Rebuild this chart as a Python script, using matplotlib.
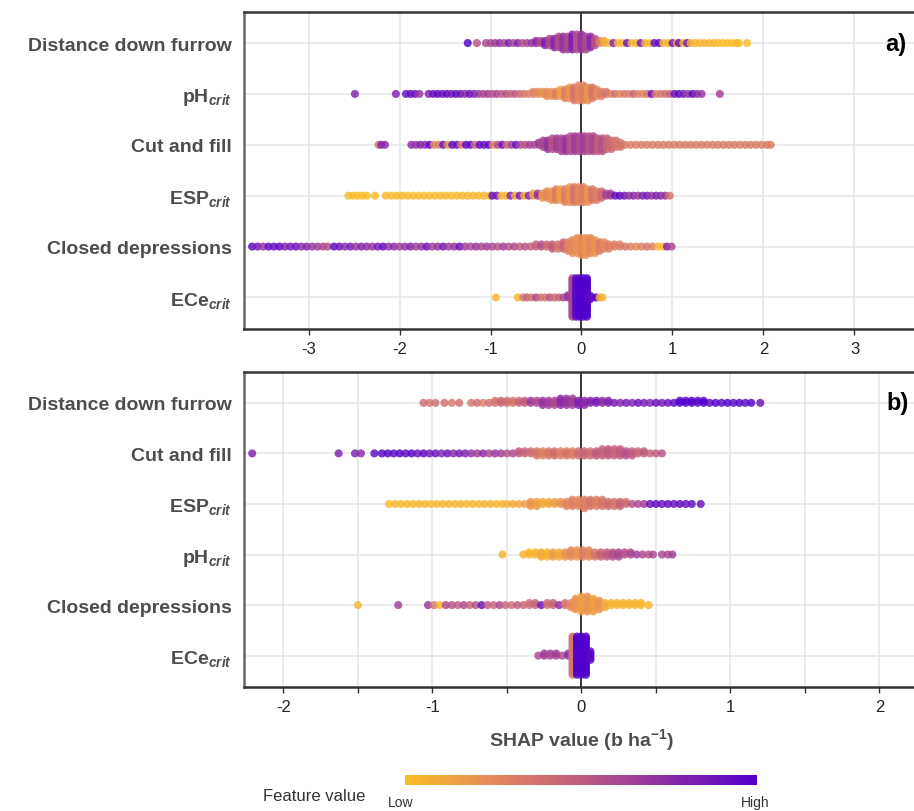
import numpy as np
import matplotlib
matplotlib.use('Agg')
import matplotlib.pyplot as plt
from matplotlib.colors import LinearSegmentedColormap

plt.rcParams['font.family'] = ['Liberation Sans', 'DejaVu Sans']
plt.rcParams['mathtext.fontset'] = 'custom'
plt.rcParams['mathtext.rm'] = 'Liberation Sans:bold'
plt.rcParams['mathtext.it'] = 'Liberation Sans:italic:bold'
plt.rcParams['mathtext.bf'] = 'Liberation Sans:bold'

# feature names, top to bottom
labels_a = ['Distance down furrow', r'pH$_{\mathit{crit}}$', 'Cut and fill',
            r'ESP$_{\mathit{crit}}$', 'Closed depressions', r'ECe$_{\mathit{crit}}$']
labels_b = ['Distance down furrow', 'Cut and fill', r'ESP$_{\mathit{crit}}$',
            r'pH$_{\mathit{crit}}$', 'Closed depressions', r'ECe$_{\mathit{crit}}$']

# each point: (SHAP value, feature value 0=low..1=high, dots stacked at that value)
a_distance = [(-1.25, 1.0, 1), (-1.15, 0.55, 1), (-1.05, 0.6, 1), (-1.0, 0.6, 1), (-0.95, 0.65, 1),
              (-0.9, 0.75, 1), (-0.85, 0.6, 1), (-0.8, 0.85, 1), (-0.75, 0.6, 1), (-0.7, 0.8, 1),
              (-0.65, 0.55, 1), (-0.6, 0.6, 1), (-0.55, 0.7, 1), (-0.5, 0.75, 2), (-0.45, 0.6, 2),
              (-0.4, 0.8, 3), (-0.35, 0.6, 4), (-0.3, 0.75, 5), (-0.25, 0.6, 6), (-0.2, 0.7, 7),
              (-0.15, 0.6, 7), (-0.1, 0.8, 8), (-0.05, 0.55, 8), (0.0, 0.7, 8), (0.05, 0.6, 7),
              (0.1, 0.75, 6), (0.15, 0.55, 4), (0.2, 0.3, 2), (0.25, 0.1, 2), (0.3, 0.05, 1),
              (0.35, 0.8, 1), (0.4, 0.05, 1), (0.45, 0.05, 1), (0.5, 0.9, 1), (0.55, 0.05, 1),
              (0.6, 0.05, 1), (0.65, 0.85, 1), (0.7, 0.05, 1), (0.75, 0.05, 1), (0.8, 0.9, 1),
              (0.85, 0.95, 1), (0.9, 0.05, 1), (0.95, 0.05, 1), (1.0, 0.85, 1), (1.05, 0.05, 1),
              (1.07, 0.9, 1), (1.12, 0.05, 1), (1.16, 0.85, 1), (1.2, 0.05, 1), (1.25, 0.05, 1),
              (1.3, 0.05, 1), (1.35, 0.05, 1), (1.4, 0.05, 1), (1.45, 0.05, 1), (1.5, 0.02, 1),
              (1.55, 0.0, 1), (1.6, 0.02, 1), (1.65, 0.0, 1), (1.7, 0.02, 1), (1.73, 0.03, 1),
              (1.82, 0.03, 1)]
a_ph = [(-2.49, 0.8, 1), (-2.04, 0.8, 1), (-1.93, 0.9, 1), (-1.88, 0.95, 1), (-1.83, 0.9, 1),
        (-1.78, 0.7, 1), (-1.68, 0.8, 1), (-1.63, 0.9, 1), (-1.58, 0.95, 1), (-1.53, 0.9, 1),
        (-1.48, 0.95, 1), (-1.43, 0.85, 1), (-1.38, 0.95, 1), (-1.33, 0.9, 1), (-1.28, 0.75, 1),
        (-1.23, 0.9, 1), (-1.18, 0.8, 1), (-1.13, 0.7, 1), (-1.08, 0.6, 1), (-1.03, 0.65, 1),
        (-0.98, 0.55, 1), (-0.93, 0.6, 1), (-0.88, 0.5, 1), (-0.83, 0.55, 1), (-0.78, 0.45, 1),
        (-0.73, 0.5, 1), (-0.68, 0.4, 1), (-0.63, 0.35, 1), (-0.58, 0.3, 1), (-0.53, 0.3, 2),
        (-0.48, 0.25, 2), (-0.43, 0.2, 2), (-0.38, 0.25, 3), (-0.33, 0.2, 3), (-0.28, 0.3, 3),
        (-0.23, 0.15, 4), (-0.18, 0.3, 5), (-0.13, 0.2, 6), (-0.08, 0.35, 7), (-0.03, 0.25, 8),
        (0.02, 0.3, 8), (0.07, 0.2, 7), (0.12, 0.35, 6), (0.17, 0.25, 4), (0.22, 0.3, 3),
        (0.27, 0.35, 2), (0.32, 0.3, 1), (0.37, 0.4, 1), (0.42, 0.25, 1), (0.47, 0.35, 1),
        (0.52, 0.3, 1), (0.57, 0.45, 1), (0.62, 0.3, 1), (0.67, 0.25, 1), (0.72, 0.35, 1),
        (0.77, 0.9, 1), (0.82, 0.3, 1), (0.87, 0.35, 1), (0.92, 0.4, 1), (0.97, 0.45, 1),
        (1.02, 0.9, 1), (1.07, 0.95, 1), (1.12, 0.85, 1), (1.17, 0.7, 1), (1.22, 0.95, 1),
        (1.27, 0.75, 1), (1.32, 0.7, 1), (1.52, 0.65, 1)]
a_cut = [(-2.23, 0.35, 1), (-2.2, 0.8, 1), (-2.16, 0.75, 1), (-1.87, 0.75, 1), (-1.82, 0.7, 1),
         (-1.77, 0.8, 1), (-1.72, 0.75, 1), (-1.67, 0.95, 1), (-1.62, 0.25, 1), (-1.57, 0.3, 1),
         (-1.52, 0.9, 1), (-1.47, 0.2, 1), (-1.42, 0.95, 1), (-1.37, 0.9, 1), (-1.32, 0.3, 1),
         (-1.27, 0.95, 1), (-1.22, 0.95, 1), (-1.17, 0.4, 1), (-1.12, 0.95, 1), (-1.07, 0.9, 1),
         (-1.02, 0.95, 1), (-0.97, 0.25, 1), (-0.92, 0.6, 1), (-0.87, 0.9, 1), (-0.82, 0.4, 1),
         (-0.77, 0.65, 1), (-0.72, 0.9, 1), (-0.67, 0.6, 1), (-0.62, 0.55, 1), (-0.57, 0.65, 1),
         (-0.52, 0.6, 1), (-0.47, 0.65, 2), (-0.42, 0.6, 4), (-0.37, 0.7, 5), (-0.32, 0.55, 6),
         (-0.27, 0.65, 6), (-0.22, 0.6, 7), (-0.17, 0.7, 7), (-0.12, 0.55, 8), (-0.07, 0.65, 8),
         (-0.02, 0.6, 8), (0.03, 0.65, 8), (0.08, 0.55, 8), (0.13, 0.6, 8), (0.18, 0.5, 7),
         (0.23, 0.55, 7), (0.28, 0.45, 6), (0.33, 0.4, 5), (0.38, 0.35, 4), (0.43, 0.35, 3),
         (0.48, 0.33, 1), (0.54, 0.32, 1), (0.6, 0.33, 1), (0.66, 0.32, 1), (0.72, 0.33, 1),
         (0.78, 0.32, 1), (0.84, 0.33, 1), (0.9, 0.32, 1), (0.96, 0.33, 1), (1.02, 0.32, 1),
         (1.08, 0.33, 1), (1.14, 0.32, 1), (1.2, 0.33, 1), (1.26, 0.32, 1), (1.32, 0.33, 1),
         (1.38, 0.32, 1), (1.44, 0.33, 1), (1.5, 0.32, 1), (1.56, 0.33, 1), (1.62, 0.32, 1),
         (1.68, 0.33, 1), (1.74, 0.32, 1), (1.8, 0.33, 1), (1.86, 0.32, 1), (1.92, 0.33, 1),
         (1.98, 0.32, 1), (2.04, 0.33, 1), (2.08, 0.32, 1)]
a_esp = [(-2.56, 0.02, 1), (-2.51, 0.02, 1), (-2.46, 0.02, 1), (-2.41, 0.02, 1), (-2.36, 0.02, 1),
         (-2.27, 0.02, 1), (-2.15, 0.03, 1), (-2.09, 0.03, 1), (-2.03, 0.03, 1), (-1.97, 0.03, 1),
         (-1.91, 0.03, 1), (-1.85, 0.03, 1), (-1.79, 0.03, 1), (-1.73, 0.03, 1), (-1.67, 0.03, 1),
         (-1.61, 0.03, 1), (-1.55, 0.03, 1), (-1.49, 0.03, 1), (-1.43, 0.03, 1), (-1.37, 0.03, 1),
         (-1.31, 0.05, 1), (-1.25, 0.03, 1), (-1.19, 0.05, 1), (-1.13, 0.03, 1), (-1.07, 0.05, 1),
         (-1.01, 0.03, 1), (-0.98, 0.9, 1), (-0.93, 0.85, 1), (-0.88, 0.05, 1), (-0.83, 0.05, 1),
         (-0.78, 0.8, 1), (-0.73, 0.1, 1), (-0.68, 0.85, 1), (-0.63, 0.1, 1), (-0.58, 0.8, 1),
         (-0.53, 0.15, 2), (-0.48, 0.7, 2), (-0.43, 0.2, 3), (-0.38, 0.25, 4), (-0.33, 0.2, 5),
         (-0.28, 0.3, 6), (-0.23, 0.15, 6), (-0.18, 0.3, 7), (-0.13, 0.2, 8), (-0.08, 0.35, 8),
         (-0.03, 0.25, 8), (0.02, 0.3, 8), (0.07, 0.2, 7), (0.12, 0.35, 6), (0.17, 0.3, 5),
         (0.22, 0.4, 4), (0.27, 0.6, 2), (0.32, 0.65, 2), (0.37, 0.9, 1), (0.42, 0.95, 1),
         (0.47, 0.85, 1), (0.52, 0.7, 1), (0.57, 0.75, 1), (0.62, 0.65, 1), (0.67, 0.8, 1),
         (0.72, 0.85, 1), (0.77, 0.7, 1), (0.82, 0.8, 1), (0.87, 0.75, 1), (0.92, 0.7, 1),
         (0.97, 0.35, 1)]
a_closed = [(-3.62, 0.95, 1), (-3.56, 0.85, 1), (-3.5, 0.7, 1), (-3.44, 0.95, 1), (-3.38, 0.9, 1),
            (-3.32, 0.95, 1), (-3.26, 0.8, 1), (-3.2, 0.85, 1), (-3.14, 0.9, 1), (-3.08, 0.75, 1),
            (-3.02, 0.8, 1), (-2.96, 0.7, 1), (-2.9, 0.65, 1), (-2.84, 0.6, 1), (-2.79, 0.55, 1),
            (-2.72, 0.95, 1), (-2.66, 0.9, 1), (-2.6, 0.75, 1), (-2.54, 0.85, 1), (-2.48, 0.7, 1),
            (-2.42, 0.8, 1), (-2.36, 0.75, 1), (-2.3, 0.7, 1), (-2.24, 0.85, 1), (-2.18, 0.95, 1),
            (-2.12, 0.7, 1), (-2.06, 0.75, 1), (-2.0, 0.65, 1), (-1.94, 0.7, 1), (-1.88, 0.8, 1),
            (-1.82, 0.65, 1), (-1.76, 0.7, 1), (-1.7, 0.9, 1), (-1.64, 0.65, 1), (-1.58, 0.7, 1),
            (-1.52, 0.85, 1), (-1.46, 0.65, 1), (-1.4, 0.7, 1), (-1.34, 0.9, 1), (-1.28, 0.65, 1),
            (-1.22, 0.6, 1), (-1.16, 0.7, 1), (-1.1, 0.6, 1), (-1.04, 0.65, 1), (-0.98, 0.6, 1),
            (-0.92, 0.55, 1), (-0.86, 0.65, 1), (-0.8, 0.55, 1), (-0.74, 0.6, 1), (-0.68, 0.5, 1),
            (-0.62, 0.55, 1), (-0.56, 0.5, 1), (-0.5, 0.45, 2), (-0.44, 0.55, 2), (-0.38, 0.4, 2),
            (-0.32, 0.5, 3), (-0.26, 0.35, 3), (-0.2, 0.45, 4), (-0.15, 0.3, 5), (-0.1, 0.25, 7),
            (-0.05, 0.2, 8), (0.0, 0.25, 9), (0.05, 0.2, 9), (0.1, 0.25, 8), (0.15, 0.2, 7),
            (0.2, 0.3, 5), (0.25, 0.25, 4), (0.3, 0.3, 3), (0.36, 0.3, 2), (0.42, 0.3, 2),
            (0.48, 0.35, 1), (0.54, 0.3, 1), (0.6, 0.25, 1), (0.66, 0.3, 1), (0.72, 0.35, 1),
            (0.78, 0.3, 1), (0.84, 0.05, 1), (0.9, 0.05, 1), (0.94, 0.8, 1), (0.99, 0.6, 1)]
a_ece = [(-0.94, 0.05, 1), (-0.7, 0.05, 1), (-0.64, 0.35, 1), (-0.6, 0.45, 1), (-0.55, 0.35, 1),
         (-0.5, 0.6, 1), (-0.45, 0.4, 1), (-0.4, 0.35, 1), (-0.35, 0.55, 1), (-0.3, 0.4, 1),
         (-0.25, 0.45, 1), (-0.2, 0.6, 1), (-0.15, 0.7, 2), (-0.1, 0.6, 19), (-0.06, 0.95, 19),
         (-0.02, 1.0, 19), (0.02, 1.0, 19), (0.06, 1.0, 19), (0.09, 0.95, 3), (0.12, 0.9, 1),
         (0.16, 1.0, 1), (0.2, 0.1, 1), (0.23, 0.05, 1)]

b_distance = [(-1.06, 0.4, 1), (-1.02, 0.35, 1), (-0.98, 0.4, 1), (-0.92, 0.4, 1), (-0.87, 0.35, 1),
              (-0.82, 0.4, 1), (-0.74, 0.35, 1), (-0.7, 0.4, 1), (-0.66, 0.3, 1), (-0.62, 0.4, 1),
              (-0.58, 0.35, 2), (-0.54, 0.45, 2), (-0.5, 0.4, 2), (-0.46, 0.35, 2), (-0.42, 0.45, 2),
              (-0.38, 0.5, 2), (-0.34, 0.65, 2), (-0.3, 0.6, 2), (-0.26, 0.7, 3), (-0.22, 0.65, 3),
              (-0.18, 0.6, 3), (-0.14, 0.75, 4), (-0.1, 0.7, 4), (-0.06, 0.65, 4), (-0.02, 0.8, 3),
              (0.02, 0.75, 3), (0.06, 0.8, 2), (0.1, 0.85, 2), (0.14, 0.75, 2), (0.18, 0.8, 2),
              (0.22, 0.85, 1), (0.26, 0.8, 1), (0.3, 0.85, 1), (0.34, 0.8, 1), (0.38, 0.9, 1),
              (0.42, 0.85, 1), (0.46, 0.8, 1), (0.5, 0.9, 1), (0.54, 0.85, 1), (0.58, 0.9, 1),
              (0.62, 0.95, 1), (0.66, 1.0, 2), (0.7, 1.0, 2), (0.74, 1.0, 2), (0.78, 0.95, 2),
              (0.82, 1.0, 2), (0.86, 0.95, 1), (0.9, 1.0, 1), (0.94, 0.95, 1), (0.98, 1.0, 1),
              (1.02, 0.95, 1), (1.06, 1.0, 1), (1.1, 0.95, 1), (1.14, 1.0, 1), (1.2, 0.9, 1)]
b_cut = [(-2.21, 0.8, 1), (-1.63, 0.8, 1), (-1.52, 0.8, 1), (-1.48, 0.75, 1), (-1.39, 0.95, 1),
         (-1.34, 0.95, 1), (-1.3, 1.0, 1), (-1.26, 0.95, 1), (-1.22, 1.0, 1), (-1.18, 0.95, 1),
         (-1.14, 1.0, 1), (-1.1, 0.9, 1), (-1.06, 0.95, 1), (-1.02, 0.85, 1), (-0.98, 0.9, 1),
         (-0.94, 0.8, 1), (-0.9, 0.9, 1), (-0.86, 0.75, 1), (-0.82, 0.85, 1), (-0.78, 0.8, 1),
         (-0.74, 0.7, 1), (-0.7, 0.65, 1), (-0.66, 0.75, 1), (-0.62, 0.6, 1), (-0.58, 0.7, 1),
         (-0.54, 0.65, 1), (-0.5, 0.55, 1), (-0.46, 0.6, 1), (-0.42, 0.5, 2), (-0.38, 0.45, 2),
         (-0.34, 0.4, 2), (-0.3, 0.35, 3), (-0.26, 0.3, 3), (-0.22, 0.35, 3), (-0.18, 0.4, 3),
         (-0.14, 0.3, 3), (-0.1, 0.35, 3), (-0.06, 0.3, 3), (-0.02, 0.4, 3), (0.02, 0.45, 3),
         (0.06, 0.4, 3), (0.1, 0.5, 3), (0.14, 0.45, 4), (0.18, 0.5, 4), (0.22, 0.45, 4),
         (0.26, 0.5, 4), (0.3, 0.55, 3), (0.34, 0.5, 3), (0.38, 0.45, 2), (0.42, 0.5, 2),
         (0.46, 0.45, 1), (0.5, 0.5, 1), (0.54, 0.55, 1)]
b_esp = [(-1.29, 0.03, 1), (-1.25, 0.03, 1), (-1.21, 0.03, 1), (-1.17, 0.03, 1), (-1.13, 0.03, 1),
         (-1.09, 0.03, 1), (-1.05, 0.05, 1), (-1.01, 0.03, 1), (-0.97, 0.05, 1), (-0.93, 0.03, 1),
         (-0.89, 0.05, 1), (-0.85, 0.03, 1), (-0.81, 0.05, 1), (-0.77, 0.03, 1), (-0.73, 0.05, 1),
         (-0.69, 0.03, 1), (-0.65, 0.05, 1), (-0.61, 0.05, 1), (-0.57, 0.03, 1), (-0.53, 0.05, 1),
         (-0.5, 0.05, 1), (-0.46, 0.1, 1), (-0.42, 0.1, 1), (-0.38, 0.15, 1), (-0.34, 0.2, 3),
         (-0.3, 0.15, 3), (-0.26, 0.1, 2), (-0.22, 0.1, 2), (-0.18, 0.15, 2), (-0.14, 0.2, 2),
         (-0.1, 0.25, 3), (-0.06, 0.3, 4), (-0.02, 0.25, 4), (0.02, 0.3, 5), (0.06, 0.35, 4),
         (0.1, 0.3, 4), (0.14, 0.35, 4), (0.18, 0.4, 3), (0.22, 0.35, 3), (0.26, 0.45, 3),
         (0.3, 0.4, 2), (0.34, 0.55, 1), (0.38, 0.6, 1), (0.42, 0.65, 1), (0.46, 0.9, 1),
         (0.5, 0.95, 1), (0.54, 0.9, 1), (0.58, 0.95, 1), (0.62, 0.9, 1), (0.66, 0.95, 1),
         (0.7, 0.9, 1), (0.74, 0.95, 1), (0.8, 0.9, 1)]
b_ph = [(-0.53, 0.05, 1), (-0.39, 0.05, 1), (-0.35, 0.05, 2), (-0.31, 0.05, 2), (-0.27, 0.1, 3),
        (-0.23, 0.05, 3), (-0.19, 0.15, 3), (-0.15, 0.1, 3), (-0.11, 0.2, 3), (-0.07, 0.25, 4),
        (-0.03, 0.2, 4), (0.01, 0.3, 4), (0.05, 0.25, 4), (0.09, 0.35, 3), (0.13, 0.45, 3),
        (0.17, 0.5, 3), (0.21, 0.55, 3), (0.25, 0.6, 3), (0.29, 0.55, 2), (0.33, 0.6, 2),
        (0.37, 0.65, 1), (0.41, 0.6, 1), (0.45, 0.55, 1), (0.48, 0.6, 1), (0.54, 0.6, 1),
        (0.58, 0.6, 1), (0.61, 0.65, 1)]
b_closed = [(-1.5, 0.05, 1), (-1.23, 0.65, 1), (-1.03, 0.7, 1), (-0.99, 0.35, 1), (-0.95, 0.05, 1),
            (-0.91, 0.6, 1), (-0.87, 0.55, 1), (-0.83, 0.5, 1), (-0.79, 0.6, 1), (-0.75, 0.45, 1),
            (-0.71, 0.55, 1), (-0.67, 0.9, 1), (-0.63, 0.5, 1), (-0.59, 0.45, 1), (-0.55, 0.6, 1),
            (-0.51, 0.45, 1), (-0.47, 0.4, 1), (-0.43, 0.5, 1), (-0.39, 0.45, 1), (-0.35, 0.4, 2),
            (-0.31, 0.45, 2), (-0.27, 0.9, 1), (-0.23, 0.4, 2), (-0.19, 0.45, 2), (-0.15, 0.75, 1),
            (-0.11, 0.35, 2), (-0.07, 0.25, 3), (-0.04, 0.2, 6), (0.0, 0.15, 8), (0.04, 0.2, 8),
            (0.08, 0.15, 7), (0.12, 0.2, 5), (0.16, 0.1, 3), (0.2, 0.05, 2), (0.24, 0.05, 2),
            (0.28, 0.05, 2), (0.32, 0.05, 2), (0.36, 0.05, 2), (0.4, 0.05, 2), (0.45, 0.05, 1)]
b_ece = [(-0.29, 0.6, 1), (-0.25, 0.65, 2), (-0.21, 0.6, 2), (-0.17, 0.65, 2), (-0.13, 0.6, 1),
         (-0.09, 0.7, 2), (-0.06, 0.35, 19), (-0.03, 1.0, 19), (0.0, 1.0, 19), (0.03, 1.0, 19),
         (0.06, 0.95, 5)]

rows_a = [a_distance, a_ph, a_cut, a_esp, a_closed, a_ece]
rows_b = [b_distance, b_cut, b_esp, b_ph, b_closed, b_ece]

cmap = LinearSegmentedColormap.from_list(
    'shap', ['#FBBF24', '#E4895C', '#BF5C80', '#8C2AA8', '#5200CC'])


def swarm(points, row, step=0.042):
    # stack the dots of one value up and down around the row line
    xs, ys, vs = [], [], []
    for x, v, n in points:
        for k in range(n):
            off = np.ceil(k / 2) * (1 if k % 2 else -1) * step
            xs.append(x)
            ys.append(row + off)
            vs.append(v)
    return xs, ys, vs


fig = plt.figure(figsize=(9.14, 8.12), dpi=100)
ax_a = fig.add_axes([244 / 914, 1 - 330 / 812, 676 / 914, 317 / 812])
ax_b = fig.add_axes([244 / 914, 1 - 688 / 812, 676 / 914, 315 / 812])

panels = [(ax_a, rows_a, labels_a, (-3.709, 3.72), 'a)', 3.45),
          (ax_b, rows_b, labels_b, (-2.265, 2.272), 'b)', 2.12)]
for ax, rows, labels, xlim, tag, tag_x in panels:
    ax.set_xlim(*xlim)
    ax.set_ylim(-0.62, 5.61)
    ax.grid(True, which='both', color='#E8E8E8', lw=1.2)
    ax.set_axisbelow(True)
    ax.axvline(0, color='#333333', lw=1.4, zorder=1.5)
    for i, pts in enumerate(rows):
        xs, ys, vs = swarm(pts, 5 - i)
        ax.scatter(xs, ys, c=vs, cmap=cmap, vmin=0, vmax=1, s=34,
                   alpha=0.82, linewidths=0, zorder=3)
    ax.set_yticks(range(6))
    ax.set_yticklabels(labels[::-1], fontsize=14, fontweight='bold', color='#4D4D4D')
    ax.tick_params(axis='y', length=0, pad=9)
    ax.tick_params(axis='x', which='both', length=4, width=1, color='#333333',
                   labelsize=12, labelcolor='#222222', pad=5)
    for side in ['top', 'bottom']:
        ax.spines[side].set_color('#333333')
        ax.spines[side].set_linewidth(1.8)
    ax.spines['left'].set_color('#666666')
    ax.spines['left'].set_linewidth(1.8)
    ax.spines['right'].set_visible(False)
    ax.text(tag_x, 5, tag, fontsize=17, fontweight='bold', color='black',
            ha='center', va='center')

ax_a.set_xticks([-3, -2, -1, 0, 1, 2, 3])
ax_a.set_xticklabels(['-3', '-2', '-1', '0', '1', '2', '3'])
ax_b.set_xticks([-2, -1, 0, 1, 2])
ax_b.set_xticklabels(['-2', '-1', '0', '1', '2'])
ax_b.set_xticks([-1.5, -0.5, 0.5, 1.5], minor=True)
ax_b.set_xlabel(r'SHAP value (b ha$^{\mathregular{-1}}$)', fontsize=14,
                fontweight='bold', color='#4D4D4D')
ax_b.xaxis.set_label_coords((581.5 - 244) / 676, -0.125)

# colour bar legend
cax = fig.add_axes([405 / 914, 1 - 786 / 812, 352 / 914, 10 / 812])
cax.imshow(np.linspace(0, 1, 256)[None, :], aspect='auto', cmap=cmap)
cax.set_axis_off()
fig.text(263 / 914, 1 - 797 / 812, 'Feature value', fontsize=12, color='#333333',
         ha='left', va='center')
fig.text(388 / 914, 1 - 803 / 812, 'Low', fontsize=10, color='#333333',
         ha='left', va='center')
fig.text(770 / 914, 1 - 803 / 812, 'High', fontsize=10, color='#333333',
         ha='right', va='center')

fig.savefig('out.png', dpi=100)
